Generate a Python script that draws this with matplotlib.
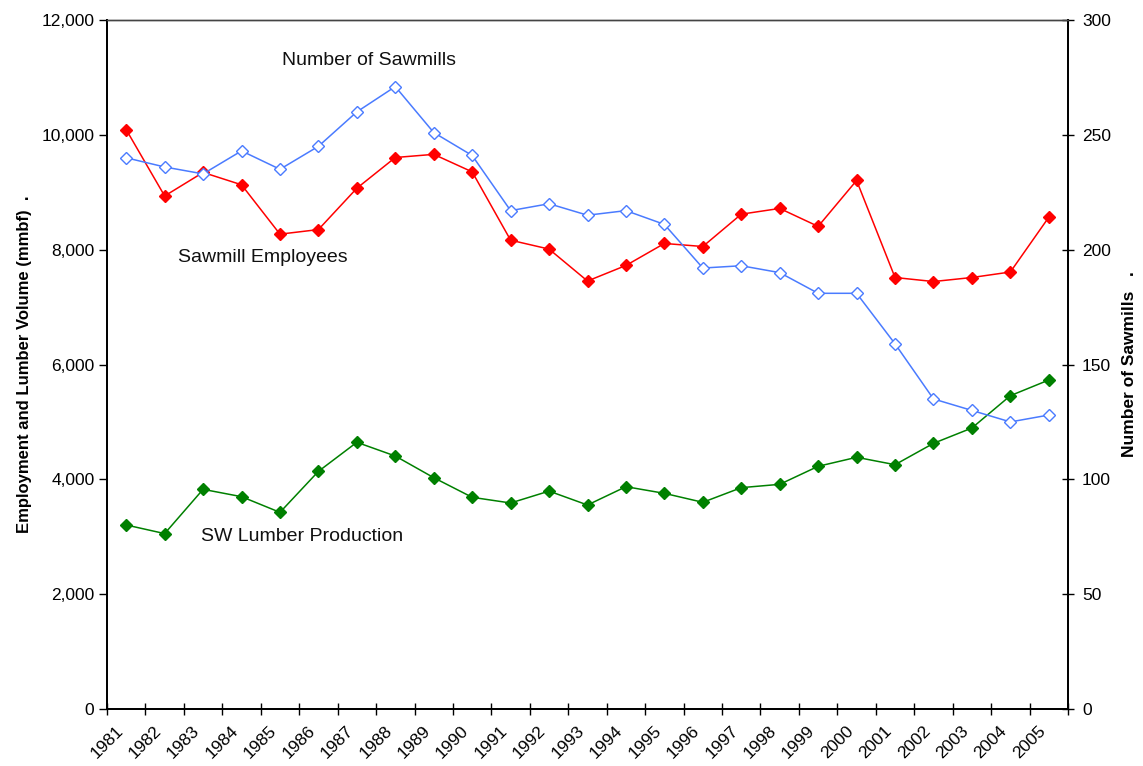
import matplotlib.pyplot as plt
from matplotlib.ticker import FuncFormatter, FixedLocator
import numpy as np

plt.rcParams["font.family"] = ["Liberation Sans", "DejaVu Sans"]

years = [str(y) for y in range(1981, 2006)]

# left axis: employees and lumber volume (mmbf)
employees = [10090, 8935, 9345, 9130, 8270, 8350, 9070, 9605, 9660, 9355,
             8165, 8010, 7454, 7725, 8108, 8055, 8618, 8718, 8405, 9205,
             7515, 7445, 7515, 7611, 8565]
lumber = [3205, 3055, 3826, 3698, 3425, 4139, 4645, 4406, 4029, 3687,
          3588, 3795, 3553, 3872, 3756, 3600, 3855, 3913, 4227, 4384,
          4255, 4627, 4894, 5457, 5730]

# right axis: number of sawmills
sawmills = [240, 236, 233, 243, 235, 245, 260, 271, 251, 241,
            217, 220, 215, 217, 211, 192, 193, 190, 181, 181,
            159, 135, 130, 125, 128]

RED = "#FF0000"
BLUE = "#4A7BFF"
GREEN = "#008000"

fig = plt.figure(figsize=(11.43, 7.66), dpi=100, facecolor="white")
ax = fig.add_axes([0.0936, 0.0744, 0.8408, 0.8995])
ax2 = ax.twinx()

x = np.arange(len(years)) + 0.5

ax.plot(x, employees, color=RED, linewidth=1.1, marker="D", markersize=6,
        markerfacecolor=RED, markeredgecolor=RED, zorder=3)
ax.plot(x, lumber, color=GREEN, linewidth=1.1, marker="D", markersize=6,
        markerfacecolor=GREEN, markeredgecolor=GREEN, zorder=3)
ax2.plot(x, sawmills, color=BLUE, linewidth=1.1, marker="D", markersize=6,
         markerfacecolor="white", markeredgecolor=BLUE, markeredgewidth=1.0, zorder=3)

ax.set_xlim(0, len(years))
ax.set_ylim(0, 12000)
ax2.set_ylim(0, 300)
ax.set_yticks(np.arange(0, 12001, 2000))
ax2.set_yticks(np.arange(0, 301, 50))
ax.yaxis.set_major_formatter(FuncFormatter(lambda v, p: f"{int(v):,}"))

# category boundaries get tick marks, centres get labels
ax.xaxis.set_major_locator(FixedLocator(np.arange(0, len(years) + 1)))
ax.xaxis.set_major_formatter(FuncFormatter(lambda v, p: ""))
ax.xaxis.set_minor_locator(FixedLocator(x - 0.15))
ax.set_xticklabels(years, minor=True)
ax.tick_params(axis="x", which="major", direction="inout", length=8, width=1.0)
ax.tick_params(axis="x", which="minor", length=0, pad=14, labelsize=12.5)
for lab in ax.get_xticklabels(minor=True):
    lab.set_rotation(45)
    lab.set_ha("right")
    lab.set_va("center")
    lab.set_rotation_mode("anchor")

ax.tick_params(axis="y", direction="out", length=6, width=1.0, labelsize=12.5, pad=3)
ax2.tick_params(axis="y", direction="inout", length=8, width=1.0, labelsize=12.5, pad=6)

for a in (ax, ax2):
    for side in ("left", "right", "bottom"):
        a.spines[side].set_color("black")
        a.spines[side].set_linewidth(1.3)
    a.spines["top"].set_color("#444444")
    a.spines["top"].set_linewidth(1.0)

ax.set_ylabel("Employment and Lumber Volume (mmbf)  .", fontsize=12, fontweight="bold", labelpad=7)
ax2.set_ylabel("Number of Sawmills   .", fontsize=12.5, fontweight="bold", labelpad=8)

ax.text(4.55, 11300, "Number of Sawmills", fontsize=14, va="center", ha="left", color="#111111")
ax.text(1.85, 7855, "Sawmill Employees", fontsize=14, va="center", ha="left", color="#111111")
ax.text(2.45, 2996, "SW Lumber Production", fontsize=14, va="center", ha="left", color="#111111")

fig.savefig("out.png", dpi=100, facecolor="white")
